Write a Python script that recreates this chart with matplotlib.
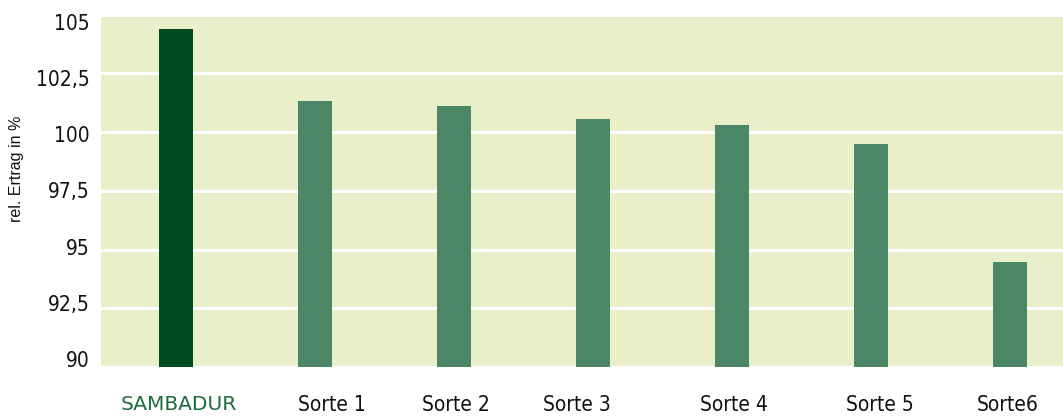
import matplotlib
matplotlib.use("Agg")
import matplotlib.pyplot as plt

categories = ["SAMBADUR", "Sorte 1", "Sorte 2", "Sorte 3", "Sorte 4", "Sorte 5", "Sorte6"]
values = [104.4, 101.3, 101.1, 100.55, 100.3, 99.47, 94.45]
yticks = [90, 92.5, 95, 97.5, 100, 102.5, 105]
ytick_labels = ["90", "92,5", "95", "97,5", "100", "102,5", "105"]

# layout: category label offsets relative to bar centres (as in the reference)
label_offsets = [0.02, 0.12, 0.01, -0.12, 0.01, 0.06, -0.02]

bg = "#E8EFC9"
dark = "#004B22"
mid = "#4B8766"

fig = plt.figure(figsize=(10.63, 4.17), dpi=100)
ax = fig.add_axes([101/1063, 50/417, 962/1063, 352.5/417])
ax.set_facecolor(bg)

colors = [dark] + [mid] * (len(categories) - 1)
x = list(range(len(categories)))
ax.bar(x, [v - 90 for v in values], bottom=90, width=0.245, color=colors, zorder=3)

ax.set_xlim(-0.54, 6.38)
ax.set_ylim(90, 105)
ax.set_yticks(yticks)
ax.set_yticklabels([])
ax.yaxis.grid(True, color="white", linewidth=2.2, zorder=1)
ax.set_axisbelow(True)
for s in ax.spines.values():
    s.set_visible(False)
ax.tick_params(axis="both", length=0)
ax.tick_params(axis="x", pad=20)

# labels axis (labels sit on a slightly compressed scale in the reference)
ax2 = ax.twinx()
ax2.set_ylim(89.64, 105.33)
ax2.set_yticks(yticks)
ax2.set_yticklabels(ytick_labels)
ax2.yaxis.tick_left()
ax2.tick_params(axis="y", length=0, pad=8)
for s in ax2.spines.values():
    s.set_visible(False)

fam = ["DejaVu Sans"]
ax.set_xticks([xi + o for xi, o in zip(x, label_offsets)])
ax.set_xticklabels(categories)
for lbl in ax2.get_yticklabels():
    lbl.set_fontfamily(fam)
    lbl.set_fontstretch("condensed")
    lbl.set_fontsize(15)
    lbl.set_color("#111111")
for i, lbl in enumerate(ax.get_xticklabels()):
    lbl.set_fontfamily(fam)
    lbl.set_fontsize(15)
    if i == 0:
        lbl.set_color("#1E6B3D")
        lbl.set_fontsize(14.5)
    else:
        lbl.set_fontstretch("condensed")
        lbl.set_color("#111111")

fig.text(17/1063, 1 - 169/417, "rel. Ertrag in %", rotation=90, va="center", ha="center",
         fontsize=11.5, family=["Liberation Sans", "DejaVu Sans"], color="#111111")

fig.savefig("out.png", dpi=100)
